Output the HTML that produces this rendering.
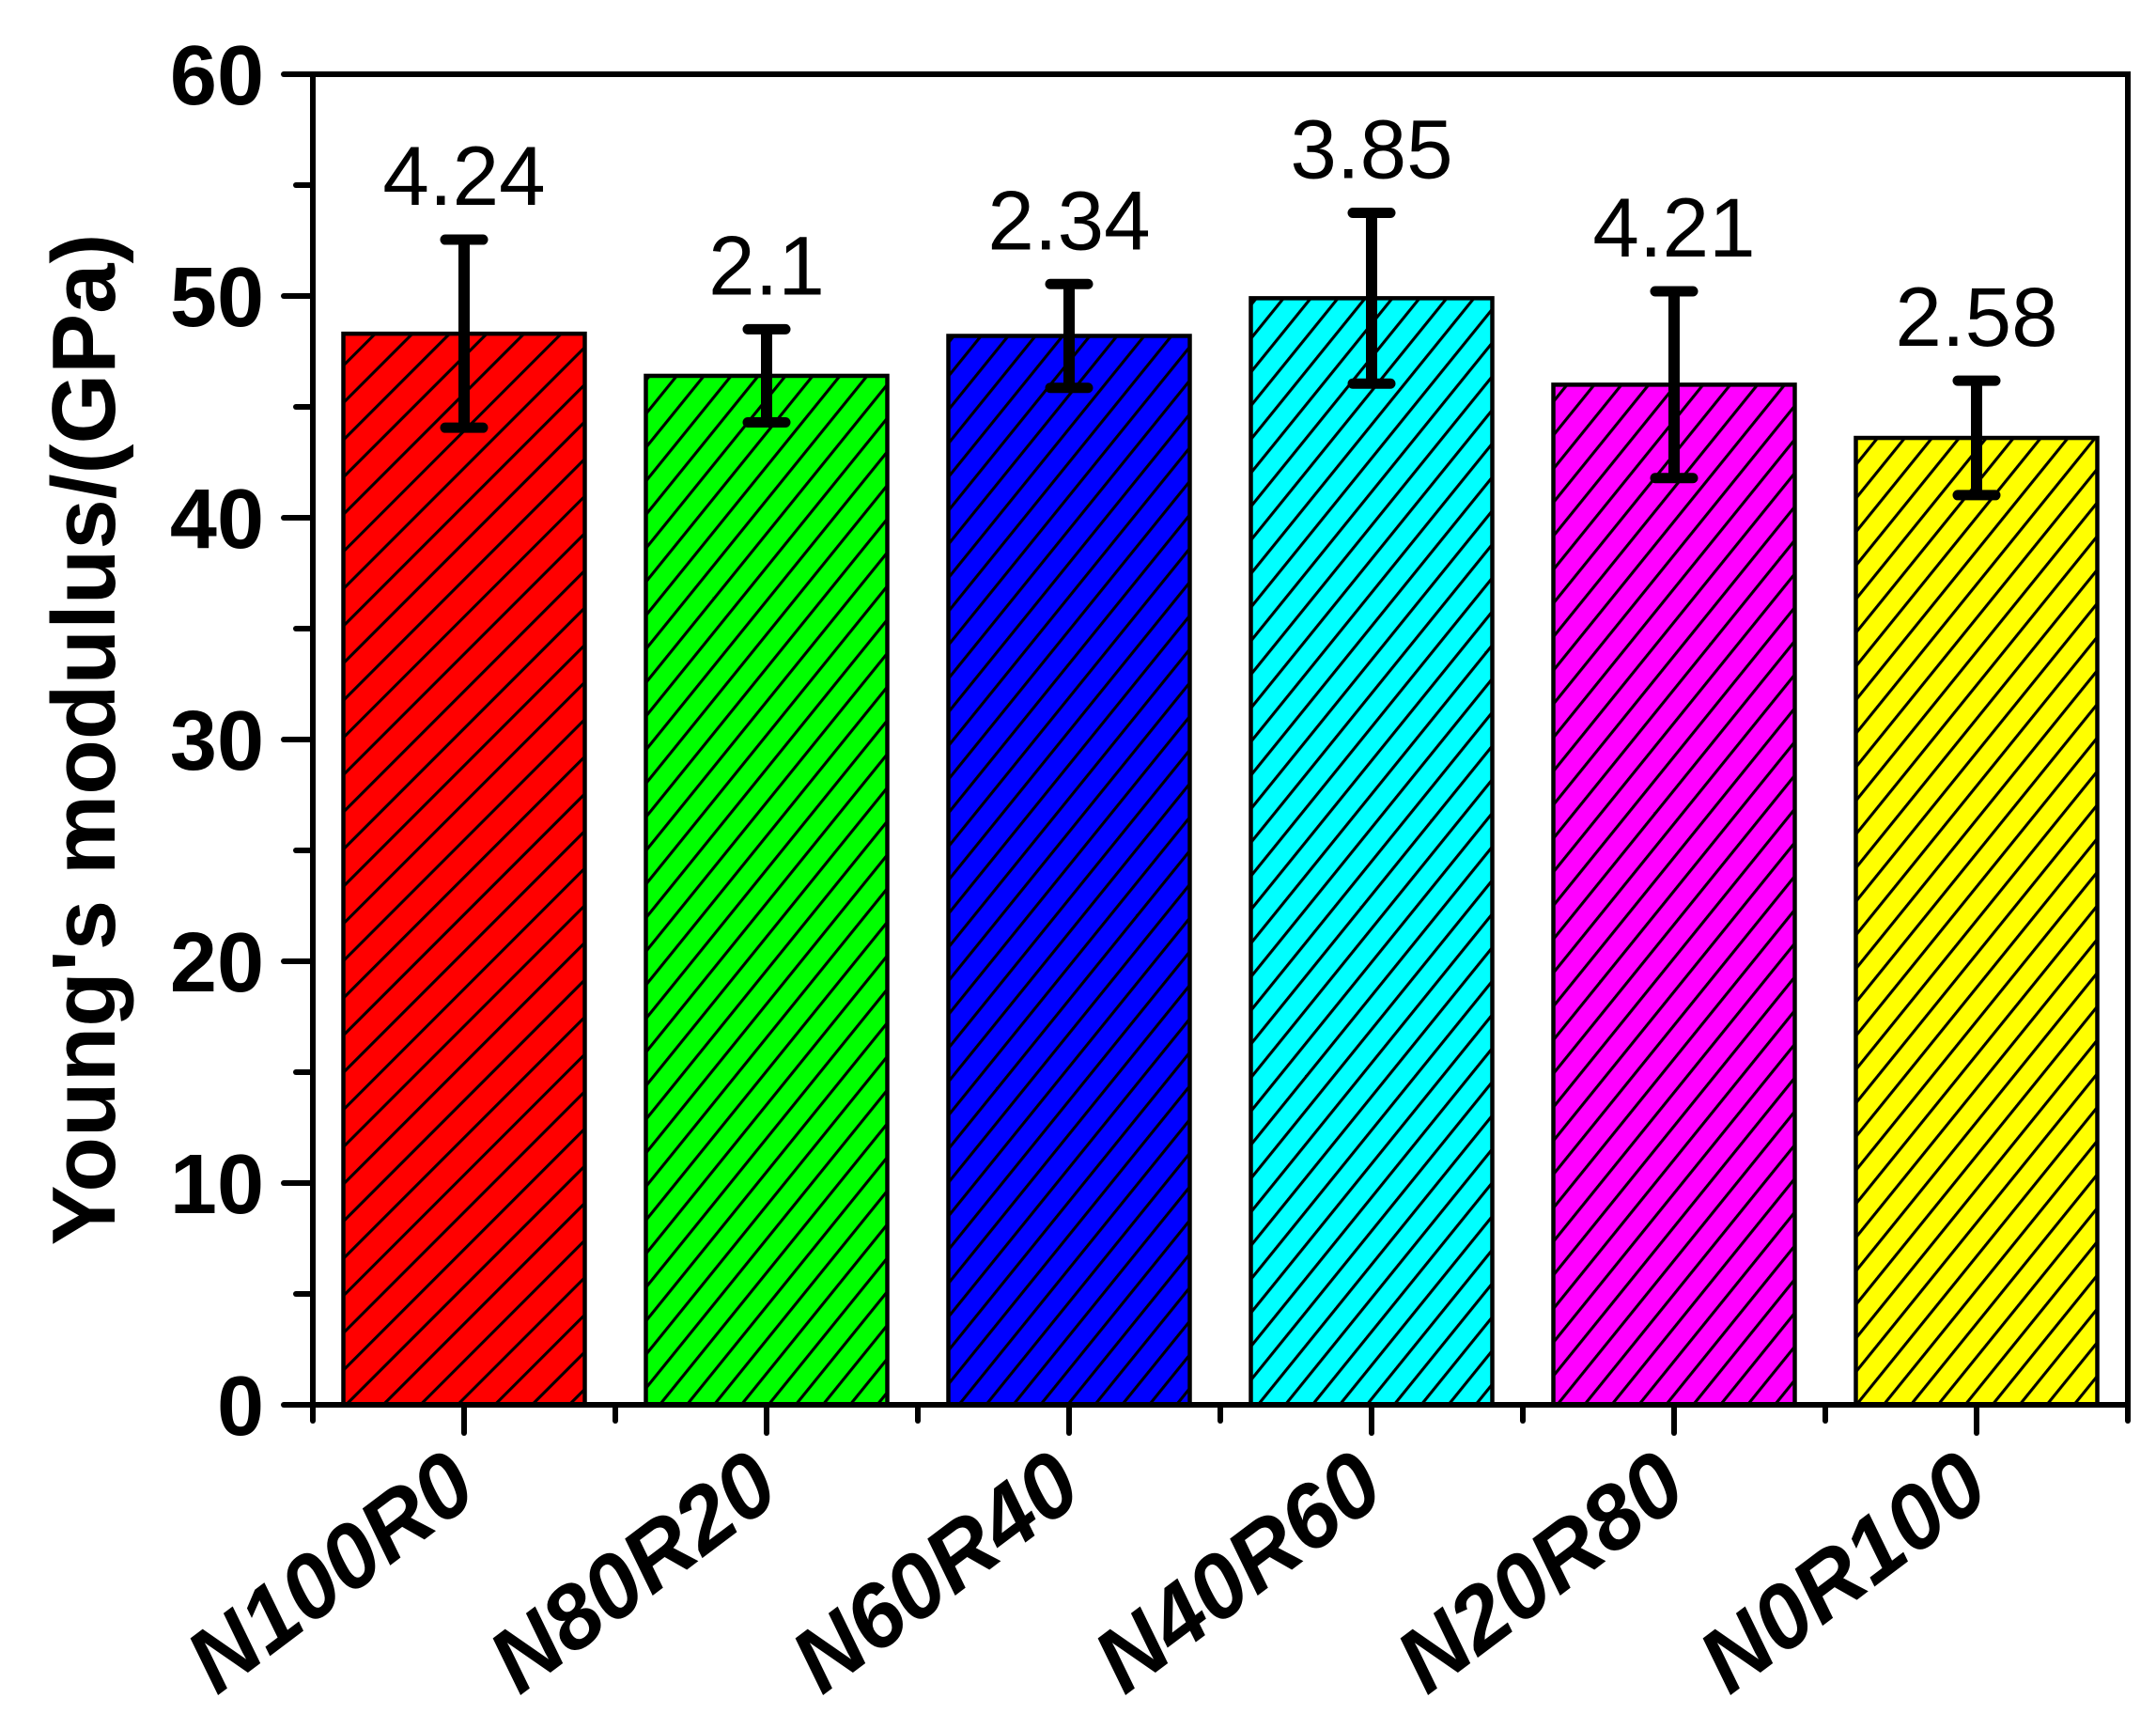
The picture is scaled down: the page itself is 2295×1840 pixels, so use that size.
<!DOCTYPE html>
<html><head><meta charset="utf-8">
<style>
html,body{margin:0;padding:0;background:#fff;}
svg{display:block;font-family:"Liberation Sans",Arial,sans-serif;}
</style></head>
<body>
<svg id="chart" width="2295" height="1840" viewBox="0 0 2295 1840" xmlns="http://www.w3.org/2000/svg">
<defs id="defs"></defs>
<g id="plot"></g>
</svg>
<script>
const categories = ["N100R0","N80R20","N60R40","N40R60","N20R80","N0R100"];
const values = [48.3, 46.4, 48.2, 49.9, 46.0, 43.6];
const errors = [4.24, 2.1, 2.34, 3.85, 4.21, 2.58];
const errorLabels = ["4.24","2.1","2.34","3.85","4.21","2.58"];
const colors = ["#ff0000","#00ff00","#0000ff","#00ffff","#ff00ff","#ffff00"];
const yTicks = [0,10,20,30,40,50,60];

const NS = "http://www.w3.org/2000/svg";
const L = 333, R = 2265, T = 79, B = 1495;
const yMin = 0, yMax = 60;
const yS = v => B - (v - yMin) / (yMax - yMin) * (B - T);
const band = (R - L) / categories.length;
const xC = i => L + band * (i + 0.5);
const barW = 257;
const defs = document.getElementById('defs');
const g = document.getElementById('plot');
function mk(tag, attrs, parent) {
  const e = document.createElementNS(NS, tag);
  for (const k in attrs) e.setAttribute(k, attrs[k]);
  (parent || g).appendChild(e);
  return e;
}

categories.forEach((c, i) => {
  const sp = i === 0 ? 28 : 22.5;
  const ang = i === 0 ? 45 : 39;
  const p = mk('pattern', {id: 'hatch' + i, patternUnits: 'userSpaceOnUse', width: sp, height: sp, patternTransform: 'rotate(' + ang + ')'}, defs);
  mk('rect', {x: 0, y: 0, width: sp, height: sp, fill: colors[i]}, p);
  mk('line', {x1: 1.5, y1: -2, x2: 1.5, y2: sp + 2, stroke: '#000', 'stroke-width': 3.2}, p);
});

categories.forEach((c, i) => {
  const x = xC(i) - barW / 2, y = yS(values[i]);
  const b = mk('rect', {x: x, y: y, width: barW, height: B - y, fill: 'url(#hatch' + i + ')', stroke: '#000', 'stroke-width': 4.5});
  
  
});

categories.forEach((c, i) => {
  const cx = xC(i), yt = yS(values[i] + errors[i]), yb = yS(values[i] - errors[i]);
  const eg = mk('g', {});
  
  
  mk('line', {x1: cx, y1: yt, x2: cx, y2: yb, stroke: '#000', 'stroke-width': 12}, eg);
  mk('line', {x1: cx - 20, y1: yt, x2: cx + 20, y2: yt, stroke: '#000', 'stroke-width': 11, 'stroke-linecap': 'round'}, eg);
  mk('line', {x1: cx - 20, y1: yb, x2: cx + 20, y2: yb, stroke: '#000', 'stroke-width': 11, 'stroke-linecap': 'round'}, eg);
  const t = mk('text', {x: cx, y: yt - 37, 'text-anchor': 'middle', 'font-size': 89, fill: '#000'});
  t.textContent = errorLabels[i];
  
  
});

const frame = mk('rect', {x: L, y: T, width: R - L, height: B - T, fill: 'none', stroke: '#000', 'stroke-width': 6});



yTicks.forEach(v => {
  const y = yS(v);
  mk('line', {x1: 302, y1: y, x2: L, y2: y, stroke: '#000', 'stroke-width': 6, 'stroke-linecap': 'round'});
  const t = mk('text', {x: 281, y: y + 32, 'text-anchor': 'end', 'font-size': 90, 'font-weight': 'bold'});
  t.textContent = String(v);
  
  
  if (v < yMax) {
    const ym = yS(v + 5);
    mk('line', {x1: 315, y1: ym, x2: L, y2: ym, stroke: '#000', 'stroke-width': 6, 'stroke-linecap': 'round'});
  }
});

categories.forEach((c, i) => {
  const cx = xC(i);
  mk('line', {x1: cx, y1: B, x2: cx, y2: 1525, stroke: '#000', 'stroke-width': 6, 'stroke-linecap': 'round'});
  mk('line', {x1: cx - band / 2, y1: B, x2: cx - band / 2, y2: 1512, stroke: '#000', 'stroke-width': 6, 'stroke-linecap': 'round'});
  const t = mk('text', {x: 0, y: 0, 'text-anchor': 'end', 'font-size': 96, 'font-weight': 'bold', 'font-style': 'italic',
    transform: 'translate(' + (cx + 18) + ',1593) rotate(-37)'});
  t.textContent = c;
  
  
});
mk('line', {x1: R, y1: B, x2: R, y2: 1512, stroke: '#000', 'stroke-width': 6, 'stroke-linecap': 'round'});

const yt = mk('text', {x: 0, y: 0, 'text-anchor': 'middle', 'font-size': 96, 'font-weight': 'bold',
  transform: 'translate(122,' + ((T + B) / 2) + ') rotate(-90)'});
yt.textContent = "Young's modulus/(GPa)";


</script>
</body></html>
